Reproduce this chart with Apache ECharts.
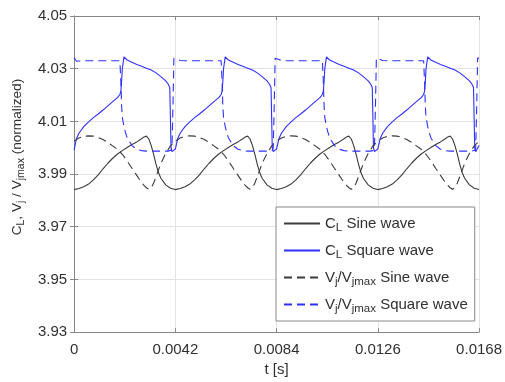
<!DOCTYPE html>
<html><head><meta charset="utf-8">
<script src="https://cdn.jsdelivr.net/npm/echarts@6/dist/echarts.min.js"></script>
<style>html,body{margin:0;padding:0;background:#fff}#c{width:505px;height:382px}</style>
</head><body><div id="c"></div>
<script>
const xTicks = [0, 0.0042, 0.0084, 0.0126, 0.0168];
const yTicks = [3.93, 3.95, 3.97, 3.99, 4.01, 4.03, 4.05];
const seriesNames = ['CL_sine', 'CL_square', 'Vj_sine', 'Vj_square'];

const tSine = [
0,0.0002,0.0004,0.0006,0.0008,0.001,0.0012,0.0014,0.0016,0.0018,0.002,0.0022,0.0024,0.0026,0.0028,0.0029,0.003,0.0031,0.0032,0.0033,0.0034,0.0035,0.0036,0.0038,0.004,
0.0042,0.0044,0.0046,0.0048,0.005,0.0052,0.0054,0.0056,0.0058,0.006,0.0062,0.0064,0.0066,0.0068,0.007,0.0071,0.0072,0.0073,0.0074,0.0075,0.0076,0.0077,0.0078,0.008,0.0082,
0.0084,0.0086,0.0088,0.009,0.0092,0.0094,0.0096,0.0098,0.01,0.0102,0.0104,0.0106,0.0108,0.011,0.0112,0.0113,0.0114,0.0115,0.0116,0.0117,0.0118,0.0119,0.012,0.0122,0.0124,
0.0126,0.0128,0.013,0.0132,0.0134,0.0136,0.0138,0.014,0.0142,0.0144,0.0146,0.0148,0.015,0.0152,0.0154,0.0155,0.0156,0.0157,0.0158,0.0159,0.016,0.0161,0.0162,0.0164,0.0166,
0.0168];

const cLSine = [
3.9841,3.9845,3.9852,3.9862,3.9878,3.9897,3.9920,3.9941,3.9960,3.9976,3.9989,4.0001,4.0012,4.0022,4.0034,4.0041,4.0044,4.0033,4.0008,3.9975,3.9937,3.9906,3.9884,3.9859,3.9846,
3.9841,3.9845,3.9852,3.9862,3.9878,3.9897,3.9920,3.9941,3.9960,3.9976,3.9989,4.0001,4.0012,4.0022,4.0034,4.0041,4.0044,4.0033,4.0008,3.9975,3.9937,3.9906,3.9884,3.9859,3.9846,
3.9841,3.9845,3.9852,3.9862,3.9878,3.9897,3.9920,3.9941,3.9960,3.9976,3.9989,4.0001,4.0012,4.0022,4.0034,4.0041,4.0044,4.0033,4.0008,3.9975,3.9937,3.9906,3.9884,3.9859,3.9846,
3.9841,3.9845,3.9852,3.9862,3.9878,3.9897,3.9920,3.9941,3.9960,3.9976,3.9989,4.0001,4.0012,4.0022,4.0034,4.0041,4.0044,4.0033,4.0008,3.9975,3.9937,3.9906,3.9884,3.9859,3.9846,
3.9841];

const vjSine = [
4.0025,4.0037,4.0043,4.0045,4.0044,4.0039,4.0031,4.0020,4.0007,3.9994,3.9975,3.9950,3.9922,3.9895,3.9868,3.9857,3.9848,3.9842,3.9848,3.9866,3.9890,3.9915,3.9940,3.9978,4.0007,
4.0025,4.0037,4.0043,4.0045,4.0044,4.0039,4.0031,4.0020,4.0007,3.9994,3.9975,3.9950,3.9922,3.9895,3.9868,3.9857,3.9848,3.9842,3.9848,3.9866,3.9890,3.9915,3.9940,3.9978,4.0007,
4.0025,4.0037,4.0043,4.0045,4.0044,4.0039,4.0031,4.0020,4.0007,3.9994,3.9975,3.9950,3.9922,3.9895,3.9868,3.9857,3.9848,3.9842,3.9848,3.9866,3.9890,3.9915,3.9940,3.9978,4.0007,
4.0025,4.0037,4.0043,4.0045,4.0044,4.0039,4.0031,4.0020,4.0007,3.9994,3.9975,3.9950,3.9922,3.9895,3.9868,3.9857,3.9848,3.9842,3.9848,3.9866,3.9890,3.9915,3.9940,3.9978,4.0007,
4.0025];

const tSquare = [
0,0.0001,0.0002,0.0004,0.0006,0.0008,0.001,0.0012,0.0014,0.0016,0.0018,0.0019,0.00194,0.00197,0.002,0.00207,0.00212,0.0022,0.0024,0.0026,0.0028,0.003,0.0032,0.0034,0.0036,0.0038,0.0039,0.00397,0.00402,0.00406,0.0041,0.00414,
0.0042,0.0043,0.0044,0.0046,0.0048,0.005,0.0052,0.0054,0.0056,0.0058,0.006,0.0061,0.00614,0.00617,0.0062,0.00627,0.00632,0.0064,0.0066,0.0068,0.007,0.0072,0.0074,0.0076,0.0078,0.008,0.0081,0.00817,0.00822,0.00826,0.0083,0.00834,
0.0084,0.0085,0.0086,0.0088,0.009,0.0092,0.0094,0.0096,0.0098,0.01,0.0102,0.0103,0.01034,0.01037,0.0104,0.01047,0.01052,0.0106,0.0108,0.011,0.0112,0.0114,0.0116,0.0118,0.012,0.0122,0.0123,0.01237,0.01242,0.01246,0.0125,0.01254,
0.0126,0.0127,0.0128,0.013,0.0132,0.0134,0.0136,0.0138,0.014,0.0142,0.0144,0.0145,0.01454,0.01457,0.0146,0.01467,0.01472,0.0148,0.015,0.0152,0.0154,0.0156,0.0158,0.016,0.0162,0.0164,0.0165,0.01657,0.01662,0.01666,0.0167,0.01674,
0.0168];

const cLSquare = [
3.9991,4.0035,4.0055,4.0080,4.0098,4.0114,4.0128,4.0143,4.0159,4.0175,4.0190,4.0202,4.0215,4.0250,4.0300,4.0345,4.0347,4.0333,4.0324,4.0316,4.0309,4.0302,4.0295,4.0284,4.0270,4.0254,4.0242,4.0229,4.0000,3.9985,3.9980,3.9985,
3.9995,4.0035,4.0055,4.0080,4.0098,4.0114,4.0128,4.0143,4.0159,4.0175,4.0190,4.0202,4.0215,4.0250,4.0300,4.0345,4.0347,4.0333,4.0324,4.0316,4.0309,4.0302,4.0295,4.0284,4.0270,4.0254,4.0242,4.0229,4.0000,3.9985,3.9980,3.9985,
3.9995,4.0035,4.0055,4.0080,4.0098,4.0114,4.0128,4.0143,4.0159,4.0175,4.0190,4.0202,4.0215,4.0250,4.0300,4.0345,4.0347,4.0333,4.0324,4.0316,4.0309,4.0302,4.0295,4.0284,4.0270,4.0254,4.0242,4.0229,4.0000,3.9985,3.9980,3.9985,
3.9995,4.0035,4.0055,4.0080,4.0098,4.0114,4.0128,4.0143,4.0159,4.0175,4.0190,4.0202,4.0215,4.0250,4.0300,4.0345,4.0347,4.0333,4.0324,4.0316,4.0309,4.0302,4.0295,4.0284,4.0270,4.0254,4.0242,4.0229,4.0000,3.9985,3.9980,3.9985,
4.0008];

const vjSquare = [
4.0341,4.0328,4.0329,4.0330,4.0330,4.0330,4.0330,4.0330,4.0330,4.0330,4.0330,4.0330,4.0250,4.0160,4.0115,4.0080,4.0062,4.0038,4.0008,3.9994,3.9989,3.9987,3.9987,3.9987,3.9987,3.9987,3.9987,3.9988,3.9990,3.9998,4.0150,4.0340,
4.0338,4.0335,4.0331,4.0330,4.0330,4.0330,4.0330,4.0330,4.0330,4.0330,4.0330,4.0330,4.0250,4.0160,4.0115,4.0080,4.0062,4.0038,4.0008,3.9994,3.9989,3.9987,3.9987,3.9987,3.9987,3.9987,3.9987,3.9988,3.9990,3.9998,4.0150,4.0340,
4.0338,4.0335,4.0331,4.0330,4.0330,4.0330,4.0330,4.0330,4.0330,4.0330,4.0330,4.0330,4.0250,4.0160,4.0115,4.0080,4.0062,4.0038,4.0008,3.9994,3.9989,3.9987,3.9987,3.9987,3.9987,3.9987,3.9987,3.9988,3.9990,3.9998,4.0150,4.0340,
4.0338,4.0335,4.0331,4.0330,4.0330,4.0330,4.0330,4.0330,4.0330,4.0330,4.0330,4.0330,4.0250,4.0160,4.0115,4.0080,4.0062,4.0038,4.0008,3.9994,3.9989,3.9987,3.9987,3.9987,3.9987,3.9987,3.9987,3.9988,3.9990,3.9998,4.0150,4.0340,
4.0340];

const legendLabels = {
  CL_sine: '{n|C}{s|L}{n| Sine wave}',
  CL_square: '{n|C}{s|L}{n| Square wave}',
  Vj_sine: '{n|V}{s|j}{n|/V}{s|jmax}{n| Sine wave}',
  Vj_square: '{n|V}{s|j}{n|/V}{s|jmax}{n| Square wave}'
};

const FONT = 'Liberation Sans, Arial, sans-serif';
const TXT = '#303030';
const AX = '#878787';
const BLACK = '#3a3a3a';
const BLUE = '#2f2fff';
const DASH = [8, 5];

function pairs(t, v) { return t.map((x, i) => [x, v[i]]); }

const chart = echarts.init(document.getElementById('c'), null, {renderer: 'canvas'});

const nameRich = {
  n: {fontSize: 13.6, fontFamily: FONT, color: TXT, lineHeight: 17, verticalAlign: 'middle'},
  s: {fontSize: 10.5, fontFamily: FONT, color: TXT, lineHeight: 17, verticalAlign: 'middle', padding: [8, 0, 0, 0]}
};
const legendRich = {
  n: {fontSize: 15, fontFamily: FONT, color: TXT, lineHeight: 18, verticalAlign: 'middle'},
  s: {fontSize: 11.5, fontFamily: FONT, color: TXT, lineHeight: 18, verticalAlign: 'middle', padding: [9, 0, 0, 0]}
};

const baseX = {
  type: 'value', min: xTicks[0], max: xTicks[xTicks.length - 1], interval: xTicks[1] - xTicks[0]
};
const baseY = {
  type: 'value', min: yTicks[0], max: yTicks[yTicks.length - 1], interval: 0.02
};

chart.setOption({
  animation: false,
  backgroundColor: '#fff',
  grid: {left: 73, right: 22, top: 16, bottom: 46, containLabel: false},
  xAxis: [
    Object.assign({}, baseX, {
      position: 'bottom',
      name: 't [s]', nameLocation: 'middle', nameGap: 24,
      nameTextStyle: {fontSize: 15, fontFamily: FONT, color: TXT},
      axisLine: {show: true, lineStyle: {color: AX, width: 1}},
      axisTick: {show: true, inside: true, length: 4, lineStyle: {color: AX}},
      axisLabel: {fontSize: 15, fontFamily: FONT, color: TXT, margin: 10,
        formatter: v => v === 0 ? '0' : v.toFixed(4)},
      splitLine: {show: true, lineStyle: {color: '#e3e3e3', width: 1}}
    }),
    Object.assign({}, baseX, {
      position: 'top',
      axisLine: {show: true, lineStyle: {color: AX, width: 1}},
      axisTick: {show: true, inside: true, length: 4, lineStyle: {color: AX}},
      axisLabel: {show: false},
      splitLine: {show: false}
    })
  ],
  yAxis: [
    Object.assign({}, baseY, {
      position: 'left',
      name: '{n|C}{s|L}{n|, V}{s|j}{n| / V}{s|jmax}{n| (normalized)}',
      nameLocation: 'middle', nameGap: 45, nameRotate: 90,
      nameTextStyle: {rich: nameRich, padding: [0, 0, 0, 34]},
      axisLine: {show: true, lineStyle: {color: AX, width: 1}},
      axisTick: {show: true, inside: true, length: 4, lineStyle: {color: AX}},
      axisLabel: {fontSize: 15, fontFamily: FONT, color: TXT, margin: 7,
        formatter: v => v.toFixed(2)},
      splitLine: {show: true, lineStyle: {color: '#e3e3e3', width: 1}}
    }),
    Object.assign({}, baseY, {
      position: 'right',
      axisLine: {show: true, lineStyle: {color: AX, width: 1}},
      axisTick: {show: true, inside: true, length: 4, lineStyle: {color: AX}},
      axisLabel: {show: false},
      splitLine: {show: false}
    })
  ],
  legend: {
    orient: 'vertical',
    left: 276, top: 207,
    backgroundColor: '#fff',
    borderColor: '#8a8a8a', borderWidth: 1, borderRadius: 0,
    padding: [6, 7, 6, 7],
    itemWidth: 36, itemHeight: 14, itemGap: 6,
    itemStyle: {opacity: 0},
    data: seriesNames,
    formatter: name => legendLabels[name],
    textStyle: {rich: legendRich}
  },
  series: [
    {name: seriesNames[0], type: 'line', data: pairs(tSine, cLSine), showSymbol: false, symbol: 'none',
      lineStyle: {color: BLACK, width: 1.1, type: 'solid'}, itemStyle: {color: BLACK}, z: 3},
    {name: seriesNames[1], type: 'line', data: pairs(tSquare, cLSquare), showSymbol: false, symbol: 'none',
      lineStyle: {color: BLUE, width: 1.1, type: 'solid'}, itemStyle: {color: BLUE}, z: 3},
    {name: seriesNames[2], type: 'line', data: pairs(tSine, vjSine), showSymbol: false, symbol: 'none',
      lineStyle: {color: BLACK, width: 1.1, type: DASH}, itemStyle: {color: BLACK}, z: 3},
    {name: seriesNames[3], type: 'line', data: pairs(tSquare, vjSquare), showSymbol: false, symbol: 'none',
      lineStyle: {color: BLUE, width: 1.1, type: DASH}, itemStyle: {color: BLUE}, z: 3}
  ]
});
</script>
</body></html>
